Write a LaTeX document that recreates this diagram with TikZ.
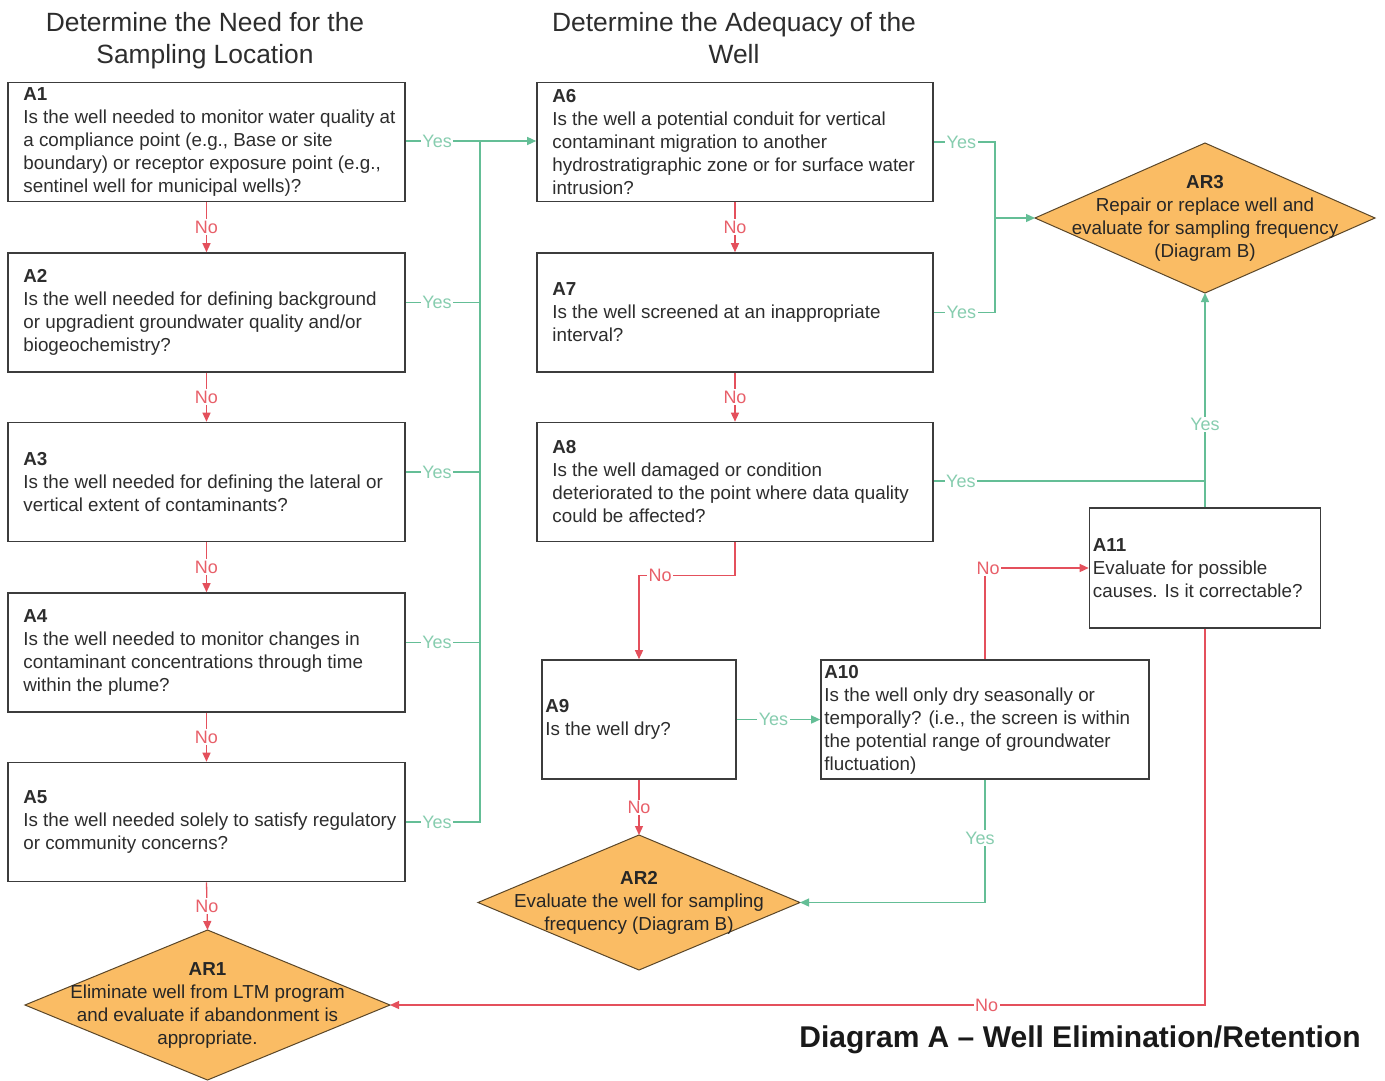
\documentclass[tikz,border=0pt]{standalone}
\usepackage{fontspec}
\setmainfont{Liberation Sans}
\usetikzlibrary{arrows.meta,shapes.geometric,calc}
\definecolor{boxline}{RGB}{60,60,60}
\definecolor{txt}{RGB}{45,45,45}
\definecolor{grn}{RGB}{100,190,150}
\definecolor{grnlbl}{RGB}{135,205,175}
\definecolor{rd}{RGB}{228,80,92}
\definecolor{rdlbl}{RGB}{232,95,105}
\definecolor{orng}{RGB}{250,188,100}
\definecolor{dline}{RGB}{90,70,40}
\tikzset{
 qbox/.style={draw=boxline, line width=1.6pt, fill=white, minimum height=119pt, inner sep=0pt},
 qtext/.style={align=left, text=txt, inner sep=0pt, font=\fontsize{18.8}{23}\selectfont},
 dia/.style={diamond, draw=dline, line width=1pt, fill=orng, inner sep=0pt, outer sep=0pt},
 dtext/.style={align=center, text=black!85, inner sep=0pt, font=\fontsize{18.8}{23}\selectfont},
 yesl/.style={draw=grn, line width=1.3pt},
 nol/.style={draw=rd, line width=1.3pt},
 arr/.style={-{Triangle[length=9pt,width=8pt]}},
 ylbl/.style={fill=white, text=grnlbl, inner sep=1.5pt, font=\fontsize{18}{18}\selectfont},
 nlbl/.style={fill=white, text=rdlbl, inner sep=1.5pt, font=\fontsize{18}{18}\selectfont},
 head/.style={align=center, text=txt, font=\fontsize{26.4}{32}\selectfont},
}
\begin{document}
\begin{tikzpicture}[x=1pt,y=-1pt]
\useasboundingbox (0,0) rectangle (1385,1080);
\fill[white] (0,0) rectangle (1385,1080);

% headers
\node[head] (h1) at (205,41) {Determine the Need for the\\Sampling Location};
\node[head] (h2) at (734,38) {Determine the Adequacy of the\\Well};

% left column boxes
\node[qbox, minimum width=397pt] (A1) at (206.5,142) {};
\node[qtext, anchor=west] (A1t) at ([xshift=16pt]A1.west) {\textbf{A1}\\Is the well needed to monitor water quality at\\a compliance point (e.g., Base or site\\boundary) or receptor exposure point (e.g.,\\sentinel well for municipal wells)?};
\node[qbox, minimum width=397pt] (A2) at (206.5,312.5) {};
\node[qtext, anchor=west] (A2t) at ([xshift=16pt]A2.west) {\textbf{A2}\\Is the well needed for defining background\\or upgradient groundwater quality and/or\\biogeochemistry?};
\node[qbox, minimum width=397pt] (A3) at (206.5,482) {};
\node[qtext, anchor=west] (A3t) at ([xshift=16pt]A3.west) {\textbf{A3}\\Is the well needed for defining the lateral or\\vertical extent of contaminants?};
\node[qbox, minimum width=397pt] (A4) at (206.5,652.5) {};
\node[qtext, anchor=west] (A4t) at ([xshift=16pt]A4.west) {\textbf{A4}\\Is the well needed to monitor changes in\\contaminant concentrations through time\\within the plume?};
\node[qbox, minimum width=397pt] (A5) at (206.5,822) {};
\node[qtext, anchor=west] (A5t) at ([xshift=16pt]A5.west) {\textbf{A5}\\Is the well needed solely to satisfy regulatory\\or community concerns?};

% middle column boxes
\node[qbox, minimum width=396pt] (A6) at (735,142) {};
\node[qtext, anchor=west] (A6t) at ([xshift=16pt]A6.west) {\textbf{A6}\\Is the well a potential conduit for vertical\\contaminant migration to another\\hydrostratigraphic zone or for surface water\\intrusion?};
\node[qbox, minimum width=396pt] (A7) at (735,312.5) {};
\node[qtext, anchor=west] (A7t) at ([xshift=16pt]A7.west) {\textbf{A7}\\Is the well screened at an inappropriate\\interval?};
\node[qbox, minimum width=396pt] (A8) at (735,482) {};
\node[qtext, anchor=west] (A8t) at ([xshift=16pt]A8.west) {\textbf{A8}\\Is the well damaged or condition\\deteriorated to the point where data quality\\could be affected?};

% lower boxes
\node[qbox, minimum width=194pt] (A9) at (639,719.5) {};
\node[qtext, anchor=west] (A9t) at ([xshift=4pt]A9.west) {\textbf{A9}\\Is the well dry?};
\node[qbox, minimum width=328pt] (A10) at (985,719.5) {};
\node[qtext, anchor=west] (A10t) at ([xshift=4pt]A10.west) {\textbf{A10}\\Is the well only dry seasonally or\\temporally? (i.e., the screen is within\\the potential range of groundwater\\fluctuation)};
\node[qbox, minimum width=231pt, minimum height=120pt] (A11) at (1205,568) {};
\node[qtext, anchor=west] (A11t) at ([xshift=4pt]A11.west) {\textbf{A11}\\Evaluate for possible\\causes. Is it correctable?};

% diamonds
\node[dia, minimum width=340pt, minimum height=150pt] (AR3) at (1205,218) {};
\node[dtext] (AR3t) at (AR3) {\textbf{AR3}\\Repair or replace well and\\evaluate for sampling frequency\\(Diagram B)};
\node[dia, minimum width=322pt, minimum height=135pt] (AR2) at (639,902.5) {};
\node[dtext] (AR2t) at (AR2) {\textbf{AR2}\\Evaluate the well for sampling\\frequency (Diagram B)};
\node[dia, minimum width=365pt, minimum height=150pt] (AR1) at (207.5,1005) {};
\node[dtext] (AR1t) at (AR1) {\textbf{AR1}\\Eliminate well from LTM program\\and evaluate if abandonment is\\appropriate.};

% title
\node[font=\bfseries\fontsize{30}{30}\selectfont, text=black!90] (title) at (1080,1040) {Diagram A \textendash{} Well Elimination/Retention};

% left column No connectors
\draw[nol, arr] (A1.south) -- node[nlbl]{No} (A2.north);
\draw[nol, arr] (A2.south) -- node[nlbl]{No} (A3.north);
\draw[nol, arr] (A3.south) -- node[nlbl]{No} (A4.north);
\draw[nol, arr] (A4.south) -- node[nlbl]{No} (A5.north);
\draw[nol, arr] (A5.south) -- node[nlbl]{No} (AR1.north);

% left column Yes connectors
\coordinate (trunk) at (480,141);
\draw[yesl, arr] ([yshift=1pt]A1.east) -- node[ylbl, pos=0.24]{Yes} ([yshift=1pt]A6.west);
\draw[yesl] ([yshift=10pt]A2.east) -- node[ylbl, pos=0.42]{Yes} ([yshift=10pt]A2.east -| trunk);
\draw[yesl] ([yshift=10pt]A3.east) -- node[ylbl, pos=0.42]{Yes} ([yshift=10pt]A3.east -| trunk);
\draw[yesl] ([yshift=10pt]A4.east) -- node[ylbl, pos=0.42]{Yes} ([yshift=10pt]A4.east -| trunk);
\draw[yesl] (A5.east) -- node[ylbl, pos=0.42]{Yes} (A5.east -| trunk) -- (trunk);

% middle column
\coordinate (J) at (995,218);
\draw[yesl] (A6.east) -- node[ylbl, pos=0.45]{Yes} (A6.east -| J) -- (J);
\draw[yesl] (A7.east) -- node[ylbl, pos=0.45]{Yes} (A7.east -| J) -- (J);
\draw[yesl, arr] (J) -- (AR3.west);
\draw[nol, arr] (A6.south) -- node[nlbl]{No} (A7.north);
\draw[nol, arr] (A7.south) -- node[nlbl]{No} (A8.north);
\draw[yesl] ([yshift=1pt]A8.east) -- node[ylbl, pos=0.1]{Yes} ([yshift=1pt]A8.east -| A11.north);
\draw[yesl, arr] (A11.north) -- node[ylbl, pos=0.386]{Yes} (AR3.south);
\draw[nol, arr] (A8.south) -- ++(0,33) coordinate (k1) -- node[nlbl, pos=0.78]{No} (k1 -| A9.north) -- (A9.north);

% lower part
\draw[yesl, arr] (A9.east) -- node[ylbl, pos=0.44]{Yes} (A10.west);
\draw[nol, arr] (A9.south) -- node[nlbl]{No} (AR2.north);
\draw[nol, arr] (A10.north) |- node[nlbl, pos=0.5, xshift=3pt]{No} (A11.west);
\draw[yesl, arr] (A10.south) |- node[ylbl, pos=0.238, xshift=-5pt]{Yes} (AR2.east);
\draw[nol, arr] (A11.south) |- node[nlbl, pos=0.634]{No} (AR1.east);
\end{tikzpicture}
\end{document}
